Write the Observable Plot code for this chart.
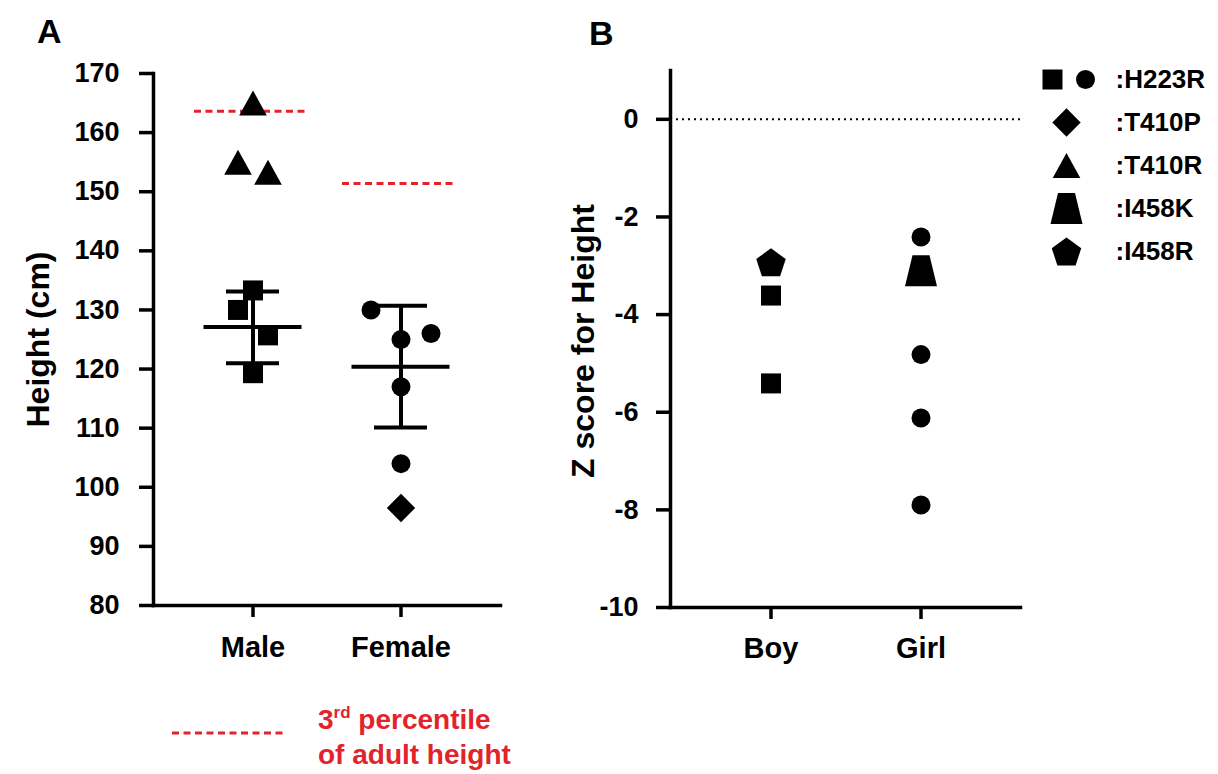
<!DOCTYPE html>
<html><head><meta charset="utf-8">
<script src="https://cdn.jsdelivr.net/npm/d3@7"></script>
<script src="https://cdn.jsdelivr.net/npm/@observablehq/plot@0.6"></script>
<style>
body{margin:0;background:#fff;font-family:"Liberation Sans",Arial,sans-serif;}
#root{position:relative;width:1218px;height:774px;overflow:hidden;background:#fff}
.letter{position:absolute;font-size:34px;font-weight:bold;line-height:34px;color:#000}
.cap{position:absolute;left:318px;top:702px;color:#e3232c;font-weight:bold;font-size:28px;line-height:35px;white-space:nowrap}
.cap sup{font-size:17px;vertical-align:11px;line-height:0}
</style></head><body><div id="root"></div>
<script>
// ---------- data ----------
const heightGroup = ["Male","Male","Male","Male","Male","Male","Male","Female","Female","Female","Female","Female","Female"];
const heightCm    = [165, 155, 153.3, 133.3, 130, 125.7, 119.3, 130, 125, 126, 117, 104, 96.5];
const heightMutation = ["T410R","T410R","T410R","H223R","H223R","H223R","H223R","H223R","H223R","H223R","H223R","H223R","T410P"];
const heightLane  = [0, -1, 1, 0, -1, 1, 0, -2, 0, 2, 0, 0, 0];
const heightTicks = [80, 90, 100, 110, 120, 130, 140, 150, 160, 170];
const groupsA = ["Male", "Female"];

const summaryGroup = ["Male", "Female"];
const summaryMean  = [127.1, 120.4];
const summaryLow   = [121.0, 110.1];
const summaryHigh  = [133.1, 130.7];

const percentileGroup = ["Male", "Female"];
const percentile3rd   = [163.6, 151.4];

const zGroup    = ["Boy","Boy","Boy","Girl","Girl","Girl","Girl","Girl"];
const zScore    = [-2.93, -3.61, -5.41, -2.41, -3.1, -4.82, -6.12, -7.9];
const zMutation = ["I458R","H223R","H223R","H223R","I458K","H223R","H223R","H223R"];
const zTicks = [0, -2, -4, -6, -8, -10];
const groupsB = ["Boy", "Girl"];

const legendMutations = ["H223R", "T410P", "T410R", "I458K", "I458R"];

// ---------- symbols ----------
function symbolOf(fn){ return {draw(ctx, size){ const r = Math.sqrt(size / Math.PI); fn(ctx, r); }}; }
const shapeNames = ["shpSquare","shpCircle","shpDiamond","shpTriangle","shpTrapezoid","shpPentagon"];
const shapeObjs = [
  symbolOf((c,r)=>{ c.rect(-r,-r,2*r,2*r); }),
  symbolOf((c,r)=>{ const R=0.95*r; c.moveTo(R,0); c.arc(0,0,R,0,2*Math.PI); }),
  symbolOf((c,r)=>{ const h=1.42*r; c.moveTo(0,-h); c.lineTo(h,0); c.lineTo(0,h); c.lineTo(-h,0); c.closePath(); }),
  symbolOf((c,r)=>{ c.moveTo(0,-1.25*r); c.lineTo(1.38*r,1.25*r); c.lineTo(-1.38*r,1.25*r); c.closePath(); }),
  symbolOf((c,r)=>{ c.moveTo(-0.85*r,-1.55*r); c.lineTo(0.85*r,-1.55*r); c.lineTo(1.6*r,1.55*r); c.lineTo(-1.6*r,1.55*r); c.closePath(); }),
  symbolOf((c,r)=>{ const R=1.55*r, off=0.095*R; for(let k=0;k<5;k++){ const a=-Math.PI/2+k*2*Math.PI/5; const x=R*Math.cos(a), y=R*Math.sin(a)+off; if(k) c.lineTo(x,y); else c.moveTo(x,y);} c.closePath(); })
];
const mutationShape = {T410P:"shpDiamond", T410R:"shpTriangle", I458K:"shpTrapezoid", I458R:"shpPentagon"};
function shapeFor(mut, group){
  if (mut === "H223R") return (group === "Male" || group === "Boy") ? "shpSquare" : "shpCircle";
  return mutationShape[mut];
}

const FONT = '"Liberation Sans", Arial, Helvetica, sans-serif';
const RED = "#e3232c";
const root = document.getElementById("root");

// ---------- panel A ----------
const heightData = heightGroup.map((g,i)=>({group:g, value:heightCm[i], mutation:heightMutation[i], lane:heightLane[i], shape:shapeFor(heightMutation[i], g)}));
const summary = summaryGroup.map((g,i)=>({group:g, mean:summaryMean[i], low:summaryLow[i], high:summaryHigh[i]}));
const pct = percentileGroup.map((g,i)=>({group:g, value:percentile3rd[i]}));
const lanes = [-2,-1,0,1,2];
const LANE_PX = 15;

const plotA = Plot.plot({
  width: 520, height: 680,
  marginLeft: 153, marginRight: 20, marginTop: 73, marginBottom: 75,
  style: {fontFamily: FONT, fontWeight: "bold", color: "#000", background: "transparent", overflow: "visible"},
  x: {type: "band", domain: groupsA, paddingInner: 0.1, paddingOuter: 0.2145, label: null},
  y: {domain: [80, 170], label: null},
  symbol: {domain: shapeNames, range: shapeObjs},
  marks: [
    Plot.frame({anchor: "left", strokeWidth: 3.5}),
    Plot.frame({anchor: "bottom", strokeWidth: 3.5}),
    Plot.axisY({ticks: heightTicks, tickSize: 14, tickPadding: 20, fontSize: 27, strokeWidth: 3.5, label: null, tickFormat: d => String(d)}),
    Plot.axisX({tickSize: 12, tickPadding: 19, fontSize: 29, strokeWidth: 3.5, label: null}),
    Plot.text(["Height (cm)"], {text: d => d, frameAnchor: "left", textAnchor: "middle", rotate: -90, dx: -115, fontSize: 32, fontWeight: "bold"}),
    Plot.tickY(pct, {x: "group", y: "value", stroke: RED, strokeWidth: 3, strokeDasharray: "7,4.5", insetLeft: 8, insetRight: 10}),
    ...lanes.map(k => Plot.dot(heightData, {filter: d => d.lane === k, x: "group", y: "value", symbol: "shape", r: 10, fill: "#000", stroke: "none", dx: k * LANE_PX})),
    Plot.ruleX(summary, {x: "group", y1: "low", y2: "high", strokeWidth: 4}),
    Plot.tickY(summary, {x: "group", y: "mean", strokeWidth: 4, insetLeft: 17.5, insetRight: 17.5}),
    Plot.tickY(summary, {x: "group", y: "low", strokeWidth: 4, insetLeft: 40, insetRight: 40}),
    Plot.tickY(summary, {x: "group", y: "high", strokeWidth: 4, insetLeft: 40, insetRight: 40})
  ]
});
plotA.style.position = "absolute"; plotA.style.left = "0px"; plotA.style.top = "0px";
root.appendChild(plotA);

// ---------- panel B ----------
const zData = zGroup.map((g,i)=>({group:g, value:zScore[i], mutation:zMutation[i], shape:shapeFor(zMutation[i], g)}));
const plotB = Plot.plot({
  width: 500, height: 680,
  marginLeft: 130, marginRight: 20, marginTop: 70, marginBottom: 73,
  style: {fontFamily: FONT, fontWeight: "bold", color: "#000", background: "transparent", overflow: "visible"},
  x: {type: "band", domain: groupsB, paddingInner: 0.1, paddingOuter: 0.209, label: null},
  y: {domain: [-10, 1], label: null},
  symbol: {domain: shapeNames, range: shapeObjs},
  marks: [
    Plot.frame({anchor: "left", strokeWidth: 3.5}),
    Plot.frame({anchor: "bottom", strokeWidth: 3.5}),
    Plot.axisY({ticks: zTicks, tickSize: 14, tickPadding: 18, fontSize: 27, strokeWidth: 3.5, label: null, tickFormat: d => String(d)}),
    Plot.axisX({tickSize: 12, tickPadding: 18, fontSize: 29, strokeWidth: 3.5, label: null}),
    Plot.text(["Z score for Height"], {text: d => d, frameAnchor: "left", textAnchor: "middle", rotate: -90, dx: -87, dy: 2, fontSize: 32, fontWeight: "bold"}),
    Plot.ruleY([0], {strokeWidth: 2, strokeDasharray: "2,4"}),
    Plot.dot(zData, {x: "group", y: "value", symbol: "shape", r: 10, fill: "#000", stroke: "none"})
  ]
});
plotB.style.position = "absolute"; plotB.style.left = "540px"; plotB.style.top = "0px";
root.appendChild(plotB);

// ---------- legend (panel B) ----------
const legendData = [];
legendMutations.forEach(m => {
  if (m === "H223R") { legendData.push({mutation: m, shape: "shpSquare", slot: -1}); legendData.push({mutation: m, shape: "shpCircle", slot: 1}); }
  else legendData.push({mutation: m, shape: mutationShape[m], slot: 0});
});
const slotDx = {"-1": 22, "0": 36, "1": 55};
const legend = Plot.plot({
  width: 188, height: 230,
  marginLeft: 0, marginRight: 0, marginTop: 28, marginBottom: 28,
  style: {fontFamily: FONT, fontWeight: "bold", color: "#000", background: "transparent", overflow: "visible"},
  y: {type: "point", domain: legendMutations, padding: 0, axis: null},
  symbol: {domain: shapeNames, range: shapeObjs},
  marks: [
    ...[-1, 0, 1].map(s => Plot.dot(legendData, {filter: d => d.slot === s, y: "mutation", symbol: "shape", r: 10, fill: "#000", stroke: "none", frameAnchor: "left", dx: slotDx[String(s)]})),
    Plot.text(legendMutations, {y: d => d, text: d => ":" + d, frameAnchor: "left", textAnchor: "start", dx: 85, fontSize: 26, fontWeight: "bold"})
  ]
});
legend.style.position = "absolute"; legend.style.left = "1030px"; legend.style.top = "50px";
root.appendChild(legend);

// ---------- panel letters ----------
const la = document.createElement("div"); la.className = "letter"; la.textContent = "A"; la.style.left = "37px"; la.style.top = "14px"; root.appendChild(la);
const lb = document.createElement("div"); lb.className = "letter"; lb.textContent = "B"; lb.style.left = "589px"; lb.style.top = "16px"; root.appendChild(lb);

// ---------- caption for the red dashed lines ----------
const capLine = d3.create("svg").attr("width", 120).attr("height", 10)
  .style("position", "absolute").style("left", "170px").style("top", "728px");
capLine.append("line").attr("x1", 2).attr("x2", 117).attr("y1", 5).attr("y2", 5)
  .attr("stroke", RED).attr("stroke-width", 3).attr("stroke-dasharray", "7,4.5");
root.appendChild(capLine.node());
const cap = document.createElement("div"); cap.className = "cap";
cap.innerHTML = "3<sup>rd</sup> percentile<br>of adult height";
root.appendChild(cap);
</script></body></html>
